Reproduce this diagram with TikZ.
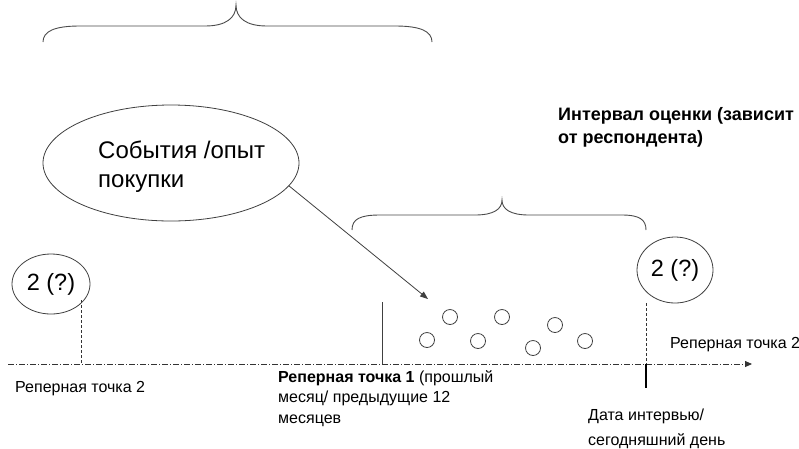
\documentclass[tikz,border=0pt]{standalone}
\usepackage{fontspec}
\setmainfont{Liberation Sans}
\usetikzlibrary{shapes.geometric,arrows.meta}
\begin{document}
\begin{tikzpicture}[x=1pt,y=-1pt,
  line/.style={draw=black!75, line width=0.8pt},
  bracepath/.style={draw=black!70, line width=0.9pt},
  oval/.style={draw=black!75, line width=0.8pt, ellipse, inner sep=0pt},
  smallc/.style={draw=black!75, line width=0.8pt, circle, minimum size=15pt, inner sep=0pt},
  axis/.style={draw=black!80, line width=0.8pt, dash pattern=on 6pt off 2pt on 1pt off 2pt},
  vdash/.style={draw=black!80, line width=0.8pt, dash pattern=on 3pt off 2pt},
  lbl/.style={inner sep=0pt, anchor=base west, align=left},
]
\useasboundingbox (0,0) rectangle (799,448);
\fill[white] (0,0) rectangle (799,448);

% big brace
\draw[bracepath] (43,42) .. controls (43,31) and (55,26) .. (80,26) -- (205,26)
  .. controls (226,26) and (236,18) .. (236,5)
  .. controls (236,18) and (246,26) .. (267,26) -- (395,26)
  .. controls (420,26) and (432,31) .. (432,42);

% small brace
\draw[bracepath] (352,230) .. controls (352,219) and (360,215) .. (380,215) -- (475,215)
  .. controls (494,215) and (502,209) .. (502,200)
  .. controls (502,209) and (510,215) .. (529,215) -- (622,215)
  .. controls (640,215) and (646,220) .. (646,230);

% events ellipse
\node[oval, minimum width=256pt, minimum height=116pt] (ev) at (171,163) {};
\node[lbl, font=\fontsize{24}{29}\selectfont] (evt) at (98,187) {События /опыт\\покупки};

% interval label
\node[lbl, font=\fontsize{18}{23}\selectfont\bfseries] (intv) at (558,143) {Интервал оценки (зависит\\от респондента)};

% 2 (?) ovals
\node[oval, minimum width=78pt, minimum height=60pt, font=\fontsize{23.5}{25}\selectfont] (l2) at (51,284) {2 (?)};
\node[oval, minimum width=76pt, minimum height=66pt, font=\fontsize{23.5}{25}\selectfont] (r2) at (675,270) {2 (?)};

% axis
\coordinate (ax0) at (8,364);
\coordinate (ax1) at (752,364);
\draw[axis, -{Triangle[length=7pt,width=6pt]}] (ax0) -- (ax1);

% left dashed
\coordinate (ltop) at (81,300);
\coordinate (lfoot) at (81,364);
\draw[vdash] (ltop) -- (lfoot);
% solid vertical (ref point 1)
\coordinate (p1top) at (382,302);
\coordinate (p1bot) at (382,364);
\draw[line] (p1top) -- (p1bot);
% right dashed + tick
\coordinate (rtop) at (646,303);
\coordinate (rfoot) at (646,364);
\coordinate (rtick) at (646,388);
\draw[vdash] (rtop) -- (rfoot);
\draw[black, line width=2pt] (rfoot) -- (rtick);

% arrow
\coordinate (arrEnd) at (428,299);
\draw[line, -{Triangle[length=8pt,width=6pt]}] (ev.-11) -- (arrEnd);

% small circles
\node[smallc] (c1) at (427,340) {};
\node[smallc] (c2) at (450,317) {};
\node[smallc] (c3) at (478,341) {};
\node[smallc] (c4) at (502,317) {};
\node[smallc] (c5) at (533,348) {};
\node[smallc] (c6) at (555,325) {};
\node[smallc] (c7) at (585,341) {};

% labels
\node[lbl, font=\fontsize{16}{18}\selectfont] (rp2l) at (15,392) {Реперная точка 2};
\node[lbl, font=\fontsize{16}{18}\selectfont] (rp2r) at (670,348) {Реперная точка 2};
\node[lbl, font=\fontsize{16}{20.5}\selectfont] (rp1) at (278,423) {\textbf{Реперная точка 1} (прошлый\\месяц/ предыдущие 12\\месяцев};
\node[lbl, font=\fontsize{16}{25}\selectfont] (date) at (588,445) {Дата интервью/\\сегодняшний день};
\end{tikzpicture}
\end{document}
